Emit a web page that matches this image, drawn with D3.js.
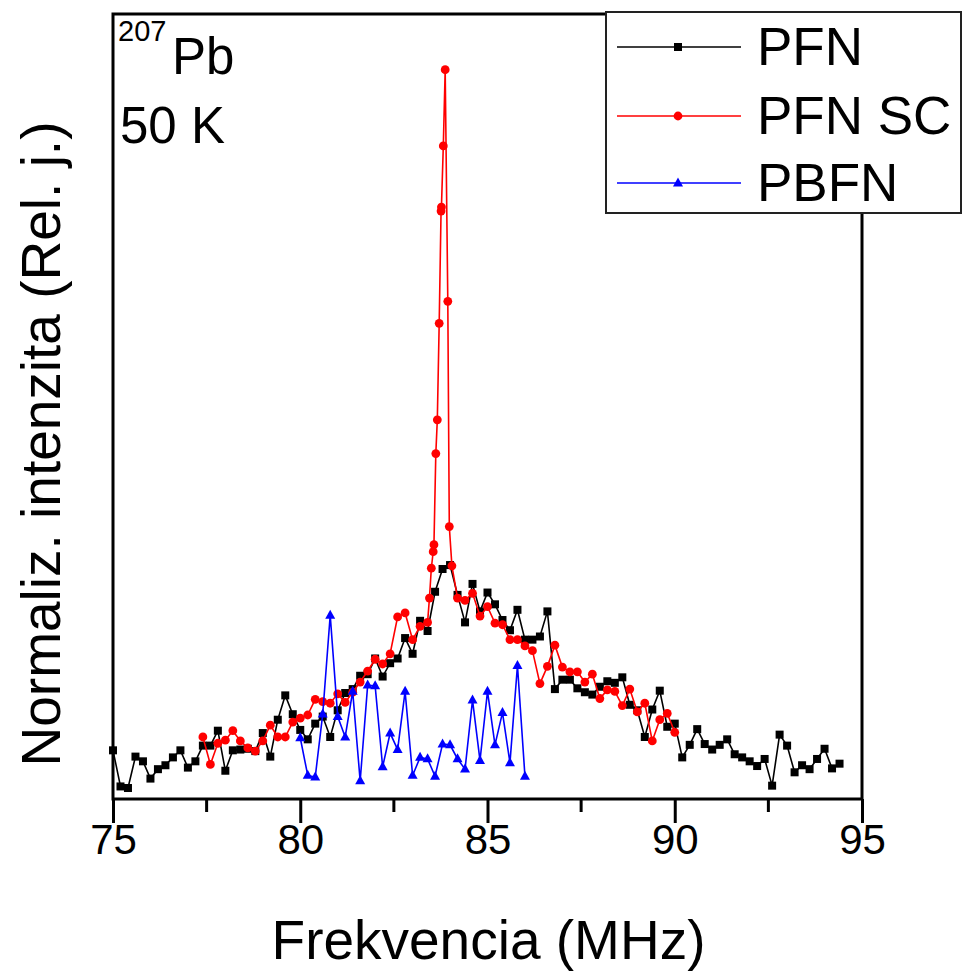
<!DOCTYPE html>
<html>
<head>
<meta charset="utf-8">
<script src="https://cdn.jsdelivr.net/npm/d3@7"></script>
<style>
  body { margin: 0; background: #fff; }
  text { font-family: "Liberation Sans", Arial, sans-serif; fill: #000; }
</style>
</head>
<body>
<div id="graph"></div>
<script>
// ---- data (intensity in arbitrary units) ----
var pfnFreq = [75.0,75.2,75.4,75.6,75.8,76.0,76.2,76.4,76.6,76.8,77.0,77.2,77.4,77.6,77.8,78.0,78.2,78.4,78.6,78.8,
  79.0,79.2,79.4,79.6,79.8,80.0,80.2,80.4,80.6,80.8,81.0,81.2,81.4,81.6,81.8,82.0,82.2,82.4,82.6,82.8,
  83.0,83.2,83.4,83.6,83.8,84.0,84.2,84.4,84.6,84.8,85.0,85.2,85.4,85.6,85.8,86.0,86.2,86.4,86.6,86.8,
  87.0,87.2,87.4,87.6,87.8,88.0,88.2,88.4,88.6,88.8,89.0,89.2,89.4,89.6,89.8,90.0,90.2,90.4,90.6,90.8,
  91.0,91.2,91.4,91.6,91.8,92.0,92.2,92.4,92.6,92.8,93.0,93.2,93.4,93.6,93.8,94.0,94.2,94.4];
var pfnInt = [6.2,1.6,1.4,5.4,4.8,2.6,3.8,4.3,5.3,6.2,
  4.0,4.8,6.8,6.8,8.7,3.6,6.2,6.3,6.4,6.1,
  8.4,5.4,10.1,13.2,10.8,8.8,7.6,9.6,10.5,7.9,
  11.3,13.5,14.0,15.7,15.9,17.9,15.6,17.3,17.9,20.5,
  18.5,22.7,21.4,26.4,29.3,29.8,26.0,22.5,27.4,23.9,
  26.3,24.8,22.8,21.5,24.1,20.3,20.3,20.7,23.9,14.0,
  15.2,15.2,14.1,13.6,13.3,14.3,15.0,14.8,15.5,12.0,
  11.3,7.9,11.4,13.8,9.2,9.6,5.3,6.9,8.9,7.0,
  6.3,6.9,7.6,5.7,5.3,4.8,4.2,5.1,1.7,8.2,
  6.8,3.4,4.3,3.8,5.1,6.4,3.9,4.5];

var scFreq = [77.4,77.6,77.8,78.0,78.2,78.4,78.6,78.8,79.0,79.2,79.4,79.6,79.8,80.0,80.2,80.4,80.6,80.8,81.0,81.2,
  81.4,81.6,81.8,82.0,82.2,82.4,82.6,82.8,83.0,83.2,83.4,
  83.45,83.5,83.55,83.57,83.62,83.66,83.71,83.76,83.77,83.82,83.87,83.94,83.98,84.05,
  84.2,84.4,84.6,84.8,85.0,85.2,85.4,85.6,85.8,86.0,86.2,86.4,86.6,86.8,87.0,87.2,87.4,87.6,87.8,88.0,
  88.2,88.4,88.6,88.8,89.0,89.2,89.4,89.6,89.8,90.0];
var scInt = [7.9,4.4,7.1,7.5,8.7,7.4,6.5,6.1,7.4,9.4,
  7.9,7.9,9.8,10.3,10.7,12.7,12.4,12.2,13.4,12.3,
  13.6,14.9,16.3,17.8,17.2,18.5,23.2,23.7,20.3,22.0,22.5,
  25.6,29.4,31.5,32.4,44.0,48.3,60.6,74.9,75.4,83.2,92.9,63.4,34.7,29.7,
  25.6,25.3,26.2,23.3,24.5,22.4,22.2,20.3,20.3,19.5,18.9,14.7,16.9,19.6,16.8,16.2,16.2,14.9,15.9,12.8,
  13.9,13.7,11.9,14.0,11.1,12.2,7.4,10.1,10.9,8.5];

var pbfnFreq = [80.0,80.2,80.4,80.6,80.8,81.0,81.2,81.4,81.6,81.8,82.0,82.2,82.4,82.6,82.8,83.0,
  83.2,83.4,83.6,83.8,84.0,84.2,84.4,84.6,84.8,85.0,85.2,85.4,85.6,85.8,86.0];
var pbfnInt = [7.8,3.0,2.8,10.8,23.4,10.5,7.9,13.7,2.3,14.5,14.4,4.1,8.4,6.3,13.7,3.0,
  5.3,5.1,2.9,7.0,6.9,5.1,3.8,12.6,4.9,13.7,6.9,11.0,4.6,17.0,2.9];

var xTicks = [75, 80, 85, 90, 95];
var xMinor = [77.5, 82.5, 87.5, 92.5];
var seriesNames = ["PFN", "PFN SC", "PBFN"];
var seriesColors = ["#000000", "#ff0000", "#0000ff"];

// ---- layout ----
var W = 962, H = 972;
var frame = {left: 113, right: 862, top: 14, bottom: 799};

var svg = d3.select("#graph")
  .append("svg")
  .attr("width", W)
  .attr("height", H);

svg.append("rect").attr("width", W).attr("height", H).attr("fill", "#fff");

var x = d3.scaleLinear().domain([75, 95]).range([frame.left, frame.right]);
var y = d3.scaleLinear().domain([0, 100]).range([frame.bottom, frame.top]);

// frame box
svg.append("rect")
  .attr("x", frame.left).attr("y", frame.top)
  .attr("width", frame.right - frame.left)
  .attr("height", frame.bottom - frame.top)
  .attr("fill", "none").attr("stroke", "#000").attr("stroke-width", 3);

// bottom axis
var xAxis = d3.axisBottom(x).tickValues(xTicks).tickSize(24).tickPadding(1).tickFormat(d3.format("d"));
var gx = svg.append("g")
  .attr("transform", "translate(0," + frame.bottom + ")")
  .call(xAxis);
gx.select(".domain").remove();
gx.selectAll(".tick line").attr("stroke", "#000").attr("stroke-width", 3);
gx.selectAll(".tick text")
  .attr("font-size", 42)
  .attr("font-family", "Liberation Sans, Arial, sans-serif")
  .attr("dy", "0.71em");

svg.append("g").selectAll("line")
  .data(xMinor).enter().append("line")
  .attr("x1", d => x(d)).attr("x2", d => x(d))
  .attr("y1", frame.bottom).attr("y2", frame.bottom + 13)
  .attr("stroke", "#000").attr("stroke-width", 3);

// axis titles
svg.append("text")
  .attr("x", (frame.left + frame.right) / 2 + 1)
  .attr("y", 959)
  .attr("text-anchor", "middle")
  .attr("font-size", 55)
  .text("Frekvencia (MHz)");

svg.append("text")
  .attr("transform", "translate(60," + 444 + ") rotate(-90)")
  .attr("text-anchor", "middle")
  .attr("font-size", 55)
  .text("Normaliz. intenzita (Rel. j.)");

// annotation
var ann = svg.append("text").attr("x", 118).attr("y", 74);
ann.append("tspan").attr("font-size", 29).attr("dy", -33).text("207");
ann.append("tspan").attr("font-size", 51).attr("x", 172).attr("dy", 33).text("Pb");
svg.append("text").attr("x", 120).attr("y", 143).attr("font-size", 51).text("50 K");

// ---- series ----
var line = d3.line().x(d => x(d[0])).y(d => y(d[1]));

function pairs(fx, fy) { return fx.map(function(f, i) { return [f, fy[i]]; }); }

var series = [pairs(pfnFreq, pfnInt), pairs(scFreq, scInt), pairs(pbfnFreq, pbfnInt)];

var triPath = "M0,-5.6L5,3.4L-5,3.4Z";

function drawMarker(sel, k) {
  if (k == 0) {
    sel.append("rect").attr("x", -4).attr("y", -4).attr("width", 8).attr("height", 8)
      .attr("fill", seriesColors[k]);
  } else if (k == 1) {
    sel.append("circle").attr("r", 4.4).attr("fill", seriesColors[k]);
  } else {
    sel.append("path").attr("d", triPath).attr("fill", seriesColors[k]);
  }
}

series.forEach(function(data, k) {
  var g = svg.append("g");
  g.append("path")
    .datum(data)
    .attr("d", line)
    .attr("fill", "none")
    .attr("stroke", seriesColors[k])
    .attr("stroke-width", 1.6);
  g.selectAll("g.pt")
    .data(data).enter().append("g")
    .attr("class", "pt")
    .attr("transform", d => "translate(" + x(d[0]) + "," + y(d[1]) + ")")
    .each(function() { drawMarker(d3.select(this), k); });
});

// ---- legend ----
var leg = svg.append("g");
leg.append("rect")
  .attr("x", 606).attr("y", 12).attr("width", 355).attr("height", 201)
  .attr("fill", "#fff").attr("stroke", "#222").attr("stroke-width", 2);

var rowY = [47, 116, 183];
seriesNames.forEach(function(name, k) {
  leg.append("line")
    .attr("x1", 617).attr("x2", 741).attr("y1", rowY[k]).attr("y2", rowY[k])
    .attr("stroke", seriesColors[k]).attr("stroke-width", 1.6);
  var m = leg.append("g").attr("transform", "translate(678," + rowY[k] + ")");
  drawMarker(m, k);
  leg.append("text")
    .attr("x", 757).attr("y", rowY[k] + 18)
    .attr("font-size", 53)
    .text(name);
});
</script>
</body>
</html>
